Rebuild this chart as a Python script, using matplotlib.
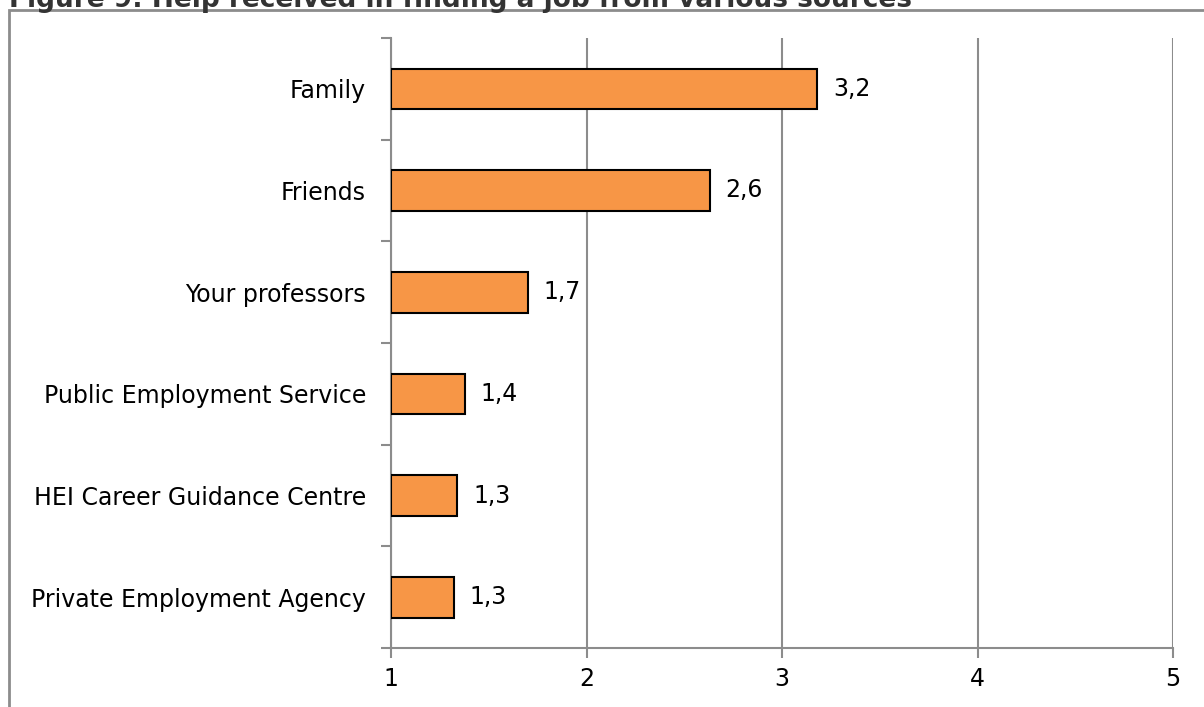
import matplotlib
matplotlib.use("Agg")
import matplotlib.pyplot as plt
import numpy as np
from matplotlib.patches import Rectangle

categories = ["Family", "Friends", "Your professors", "Public Employment Service",
              "HEI Career Guidance Centre", "Private Employment Agency"]
values = [3.18, 2.63, 1.70, 1.38, 1.34, 1.32]
labels = ["3,2", "2,6", "1,7", "1,4", "1,3", "1,3"]
xticks = [1, 2, 3, 4, 5]
title = "Figure 9: Help received in finding a job from various sources"

W, H = 1204, 707
fig = plt.figure(figsize=(W / 100, H / 100), dpi=100)
plt.rcParams['font.family'] = ['DejaVu Sans']

grey = "#8c8c8c"
fs = 17

# outer border
fig.patches.append(Rectangle((9 / W, -0.05), 1.1, 1 - 10 / H + 0.05, transform=fig.transFigure,
                             fill=False, edgecolor=grey, linewidth=2, clip_on=False))
fig.text(9 / W, 1 - 7 / H, title, fontsize=19, fontweight='bold', color="#333333",
         ha='left', va='baseline')

ax = fig.add_axes([391 / W, 1 - 648 / H, (1173 - 391) / W, (648 - 38) / H])
n = len(categories)
y = np.arange(n)
ax.barh(y, np.array(values) - 1, left=1, height=0.4, color="#F79646",
        edgecolor="black", linewidth=1.5, zorder=3)
for yi, v, lab in zip(y, values, labels):
    ax.text(v + 0.08, yi, lab, va='center', ha='left', fontsize=fs, color="black")

ax.set_xlim(1, 5)
ax.set_ylim(n - 0.5, -0.5)
ax.set_xticks(xticks)
ax.set_xticklabels([str(t) for t in xticks], fontsize=fs)
ax.set_yticks(y)
ax.set_yticklabels(categories, fontsize=fs)
ax.set_yticks(np.arange(n + 1) - 0.5, minor=True)
ax.tick_params(axis='y', which='major', length=0, pad=18)
ax.tick_params(axis='y', which='minor', length=7, width=1.5, color=grey, direction='out')
ax.tick_params(axis='x', which='major', length=7, width=1.5, color=grey, direction='out', pad=7)
ax.grid(axis='x', color=grey, linewidth=1.5, zorder=0)
ax.set_axisbelow(True)
for s in ['top', 'right']:
    ax.spines[s].set_visible(False)
for s in ['left', 'bottom']:
    ax.spines[s].set_color(grey)
    ax.spines[s].set_linewidth(1.5)

fig.savefig("out.png", dpi=100)
